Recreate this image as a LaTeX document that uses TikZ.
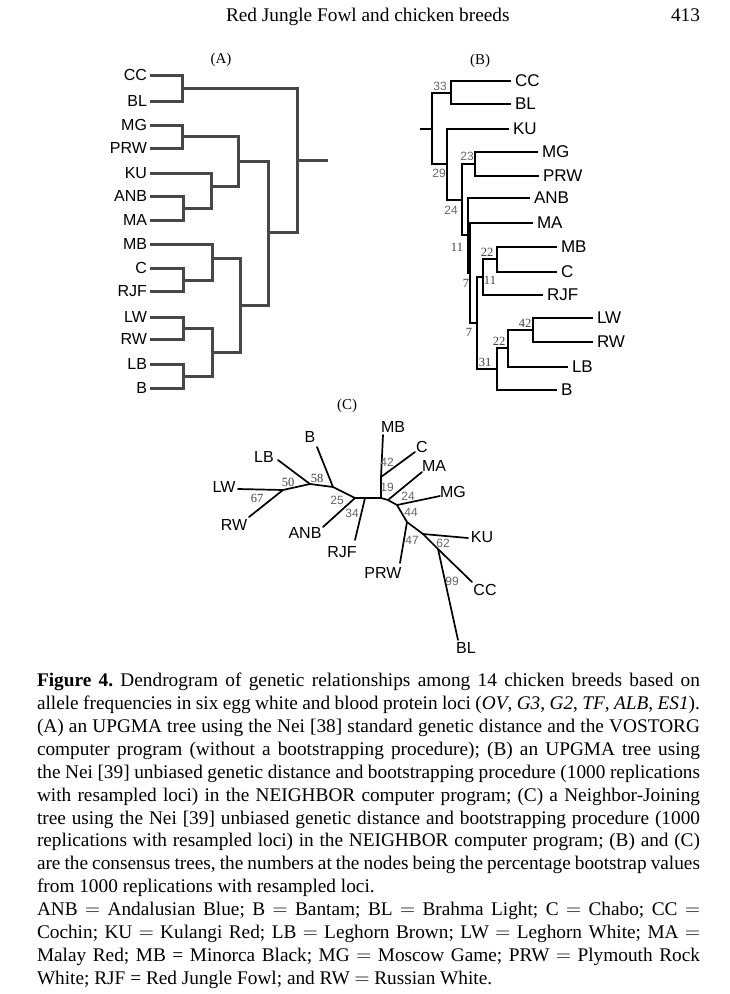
\documentclass[tikz,border=0pt]{standalone}
\usepackage{fontspec}
\setmainfont{Liberation Serif}
\setsansfont{Liberation Sans}
\frenchspacing
\begin{document}
\begin{tikzpicture}[x=1pt,y=-1pt,
  every node/.style={inner sep=0pt, outer sep=0pt},
  brA/.style={draw=black!72, line width=3pt},
  brB/.style={draw=black, line width=2.3pt},
  brC/.style={draw=black, line width=1.7pt, line cap=round, line join=round},
  labA/.style={font=\fontsize{16}{18}\selectfont\sffamily, anchor=east},
  labB/.style={font=\fontsize{17}{20}\selectfont\sffamily, anchor=west},
  labC/.style={font=\fontsize{16}{19}\selectfont\sffamily},
  bsS/.style={font=\fontsize{12}{14}\selectfont\sffamily, text=black!60},
  bsR/.style={font=\fontsize{12.5}{14}\selectfont, text=black!75},
  panel/.style={font=\fontsize{15}{17}\selectfont},
  head/.style={font=\fontsize{19.3}{23}\selectfont},
]
\path[use as bounding box] (0,0) rectangle (730,994);

% ---------- header ----------
\node[head, anchor=base west] (hd) at (226,21) {Red Jungle Fowl and chicken breeds};
\node[head, anchor=base east] (pg) at (700,21) {413};

% ---------- panel labels ----------
\node[panel] (pA) at (221,60) {(A)};
\node[panel] (pB) at (480,61) {(B)};
\node[panel] (pC) at (347,406) {(C)};

% ---------- tree A ----------
\foreach \n/\y in {CC/75,BL/101,MG/125,PRW/148,KU/173,ANB/196,MA/220,MB/244,C/268,RJF/291,LW/317,RW/339,LB/364,B/388}{
  \coordinate (l\n) at (150,\y);
  \node[labA] (t\n) at (147,\y) {\n};
}
\coordinate (aCCBL) at (182,88);
\coordinate (aMGPRW) at (182,136);
\coordinate (aANBMA) at (183,208);
\coordinate (aKU) at (211,186);
\coordinate (aMGMA) at (238,161);
\coordinate (aCRJF) at (183,280);
\coordinate (aMB) at (212,258);
\coordinate (aLWRW) at (183,328);
\coordinate (aLBB) at (183,376);
\coordinate (aLWB) at (212,352);
\coordinate (aMBB) at (240,305);
\coordinate (aMGB) at (268,232);
\coordinate (aRoot) at (297,160);
\coordinate (aStub) at (328,160);
\draw[brA] (lCC) -| (aCCBL) |- (lBL);
\draw[brA] (lMG) -| (aMGPRW) |- (lPRW);
\draw[brA] (lANB) -| (aANBMA) |- (lMA);
\draw[brA] (lKU) -| (aKU) |- (aANBMA);
\draw[brA] (aMGPRW) -| (aMGMA) |- (aKU);
\draw[brA] (lC) -| (aCRJF) |- (lRJF);
\draw[brA] (lMB) -| (aMB) |- (aCRJF);
\draw[brA] (lLW) -| (aLWRW) |- (lRW);
\draw[brA] (lLB) -| (aLBB) |- (lB);
\draw[brA] (aLWRW) -| (aLWB) |- (aLBB);
\draw[brA] (aMB) -| (aMBB) |- (aLWB);
\draw[brA] (aMGMA) -| (aMGB) |- (aMBB);
\draw[brA] (aCCBL) -| (aRoot) |- (aMGB);
\draw[brA] (aRoot) -- (aStub);

% ---------- tree B ----------
\foreach \n/\x/\y in {CC/511/81,BL/511/104,KU/509/129,MG/538/152,PRW/539/176,ANB/530/198,MA/533/223,MB/557/247,C/557/272,RJF/543/295,LW/593/318,RW/593/342,LB/568/367,B/557/390}{
  \coordinate (b\n) at (\x,\y);
  \node[labB] (u\n) at ([xshift=4pt]b\n) {\n};
}
\coordinate (bCCBL) at (451,93);
\coordinate (bMGPRW) at (475,164);
\coordinate (bMBC) at (497,259);
\coordinate (bRJF11) at (483,277);
\coordinate (bLWRW) at (533,330);
\coordinate (bLB22) at (508,348);
\coordinate (bB31) at (497,369);
\coordinate (bN7b) at (477,323);
\coordinate (bN7a) at (470,273);
\coordinate (bN11) at (468,235);
\coordinate (bN24) at (462,200);
\coordinate (bN29) at (447,164);
\coordinate (bRoot) at (432,129);
\coordinate (bStub) at (420,129);
\draw[brB] (bCC) -| (bCCBL) |- (bBL);
\draw[brB] (bMG) -| (bMGPRW) |- (bPRW);
\draw[brB] (bMB) -| (bMBC) |- (bC);
\draw[brB] (bMBC) -| (bRJF11) |- (bRJF);
\draw[brB] (bLW) -| (bLWRW) |- (bRW);
\draw[brB] (bLWRW) -| (bLB22) |- (bLB);
\draw[brB] (bLB22) -| (bB31) |- (bB);
\draw[brB] (bRJF11) -| (bN7b) |- (bB31);
\draw[brB] (bMA) -| (bN7a) |- (bN7b);
\draw[brB] (bANB) -| (bN11) |- (bN7a);
\draw[brB] (bMGPRW) -| (bN24) |- (bN11);
\draw[brB] (bKU) -| (bN29) |- (bN24);
\draw[brB] (bCCBL) -| (bRoot) |- (bN29);
\draw[brB] (bRoot) -- (bStub);
\node[bsS] (v33) at (440,86) {33};
\node[bsS] (v29) at (439,173) {29};
\node[bsS] (v24) at (451,210) {24};
\node[bsS] (v23) at (467,156) {23};
\node[bsR] (v11a) at (457,247) {11};
\node[bsR] (v22a) at (487,252) {22};
\node[bsR] (v11b) at (490,280) {11};
\node[bsR] (v7a) at (466,283) {7};
\node[bsR] (v7b) at (469,332) {7};
\node[bsR] (v42) at (525,323) {42};
\node[bsR] (v22b) at (499,341) {22};
\node[bsR] (v31) at (485,362) {31};

% ---------- tree C ----------
\coordinate (cLWt) at (238,489);
\coordinate (cRWt) at (249,517);
\coordinate (cLBt) at (278,460);
\coordinate (cBt) at (317,447);
\coordinate (cANBt) at (323,527);
\coordinate (cRJFt) at (355,540);
\coordinate (cMBt) at (383,435);
\coordinate (cCt) at (415,452);
\coordinate (cMAt) at (422,472);
\coordinate (cMGt) at (440,496);
\coordinate (cPRWt) at (400,563);
\coordinate (cKUt) at (468,538);
\coordinate (cCCt) at (472,582);
\coordinate (cBLt) at (458,640);
\coordinate (c1) at (283,490);
\coordinate (c2) at (310,484);
\coordinate (c3) at (333,487);
\coordinate (c4) at (355,498);
\coordinate (c5) at (365,498);
\coordinate (c6) at (381,498);
\coordinate (cMBc) at (381,477);
\coordinate (c7) at (388,500);
\coordinate (c8) at (397,505);
\coordinate (c9) at (407,522);
\coordinate (c10) at (423,534);
\coordinate (c11) at (438,549);
\draw[brC] (cLWt) -- (c1) -- (cRWt);
\draw[brC] (c1) -- (c2) -- (c3) -- (c4) -- (c5) -- (c6);
\draw[brC] (c2) -- (cLBt);
\draw[brC] (c3) -- (cBt);
\draw[brC] (c4) -- (cANBt);
\draw[brC] (c5) -- (cRJFt);
\draw[brC] (c6) -- (cMBc) -- (cMBt);
\draw[brC] (cMBc) -- (cCt);
\draw[brC] (c6) -- (c7) -- (c8) -- (c9) -- (c10) -- (c11) -- (cCCt);
\draw[brC] (c7) -- (cMAt);
\draw[brC] (c8) -- (cMGt);
\draw[brC] (c9) -- (cPRWt);
\draw[brC] (c10) -- (cKUt);
\draw[brC] (c11) -- (cBLt);
\node[labC] (wMB) at (393,427) {MB};
\node[labC] (wC) at (422,447) {C};
\node[labC] (wMA) at (434,466) {MA};
\node[labC] (wMG) at (453,492) {MG};
\node[labC] (wKU) at (482,537) {KU};
\node[labC] (wCC) at (485,590) {CC};
\node[labC] (wBL) at (466,648) {BL};
\node[labC] (wPRW) at (383,573) {PRW};
\node[labC] (wRJF) at (342,552) {RJF};
\node[labC] (wANB) at (305,533) {ANB};
\node[labC] (wRW) at (234,525) {RW};
\node[labC] (wLW) at (224,487) {LW};
\node[labC] (wLB) at (264,457) {LB};
\node[labC] (wB) at (310,437) {B};
\node[bsR] (s50) at (288,482) {50};
\node[bsR] (s58) at (317,478) {58};
\node[bsR] (s67) at (257,498) {67};
\node[bsS] (s25) at (337,500) {25};
\node[bsS] (s34) at (352,513) {34};
\node[bsS] (s42) at (387,462) {42};
\node[bsS] (s19) at (387,487) {19};
\node[bsS] (s24) at (408,496) {24};
\node[bsS] (s44) at (411,512) {44};
\node[bsS] (s47) at (412,540) {47};
\node[bsS] (s62) at (443,543) {62};
\node[bsS] (s99) at (452,581) {99};

% ---------- caption ----------
\node[anchor=north west] (cap) at (37,673) {\vbox{\hsize=663pt
\fontsize{19.3}{22.9}\selectfont
\hbox to\hsize{\textbf{Figure 4.} Dendrogram of genetic relationships among 14 chicken breeds based on}
\hbox to\hsize{allele frequencies in six egg white and blood protein loci (\textit{OV}, \textit{G3}, \textit{G2}, \textit{TF}, \textit{ALB}, \textit{ES1}).}
\hbox to\hsize{(A) an UPGMA tree using the Nei [38] standard genetic distance and the VOSTORG}
\hbox to\hsize{computer program (without a bootstrapping procedure); (B) an UPGMA tree using}
\hbox to\hsize{the Nei [39] unbiased genetic distance and bootstrapping procedure (1000 replications}
\hbox to\hsize{with resampled loci) in the NEIGHBOR computer program; (C) a Neighbor-Joining}
\hbox to\hsize{tree using the Nei [39] unbiased genetic distance and bootstrapping procedure (1000}
\hbox to\hsize{replications with resampled loci) in the NEIGHBOR computer program; (B) and (C)}
\hbox to\hsize{are the consensus trees, the numbers at the nodes being the percentage bootstrap values}
\hbox{from 1000 replications with resampled loci.}
\hbox to\hsize{ANB $=$ Andalusian Blue; B $=$ Bantam; BL $=$ Brahma Light; C $=$ Chabo; CC $=$}
\hbox to\hsize{Cochin; KU $=$ Kulangi Red; LB $=$ Leghorn Brown; LW $=$ Leghorn White; MA $=$}
\hbox to\hsize{Malay Red; MB = Minorca Black; MG $=$ Moscow Game; PRW $=$ Plymouth Rock}
\hbox{White; RJF = Red Jungle Fowl; and RW $=$ Russian White.}
}};
\end{tikzpicture}
\end{document}
